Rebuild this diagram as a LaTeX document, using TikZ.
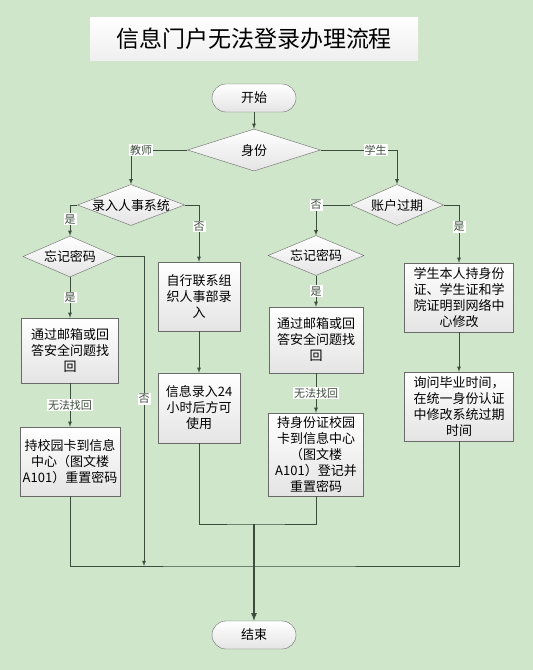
\documentclass[tikz,border=0pt]{standalone}
\usepackage{fontspec}
\setmainfont{Noto Sans CJK SC}
\usetikzlibrary{shapes}
\usetikzlibrary{positioning}
\usetikzlibrary{arrows.meta}
\definecolor{bgc}{HTML}{CFE6CA}
\definecolor{lnc}{HTML}{3D4D3D}
\definecolor{bdc}{HTML}{6A6A6A}
\definecolor{boxg}{HTML}{E4E4E4}
\tikzset{
    title/.style = {rectangle, draw=none, top color=white, bottom color=boxg!60, minimum width=328pt, minimum height=43pt, inner sep=0pt, font=\fontsize{23}{26}\selectfont},
    term/.style = {rectangle, rounded corners=14pt, draw=bdc, thin, top color=white, bottom color=boxg, minimum width=84pt, minimum height=28pt, inner sep=0pt, font=\fontsize{13}{16}\selectfont},
    choice/.style = {diamond, aspect=2.6, draw=bdc, thin, top color=white, bottom color=boxg, inner sep=0pt, text height=10pt, text depth=0pt, font=\fontsize{13}{16}\selectfont},
    stepbox/.style = {rectangle, draw=bdc, thin, top color=white, bottom color=boxg, inner sep=0pt, align=center, font=\fontsize{13}{16}\selectfont},
    lbl/.style = {fill=white, inner sep=1pt, font=\fontsize{11}{12}\selectfont},
    edgen/.style = {-latex, lnc, line width=0.8pt},
    edgel/.style = {lnc, line width=0.8pt},
    edgem/.style = {-latex, lnc, line width=1.6pt}
}
\begin{document}
\begin{tikzpicture}[x=1pt,y=-1pt]
%
\path[fill=bgc] (0,0) rectangle (533,670);
\node[title] at (254,38.5) (ttl) {信息门户无法登录办理流程};
%
\node[term] at (254,98) (start) {开始};
\node[choice, minimum width=133pt, minimum height=42pt] at (254,150) (sf) {身份};
\node[choice, minimum width=107pt, minimum height=41pt] at (131,205) (lr) {录入人事系统};
\node[choice, minimum width=93pt, minimum height=41pt] at (397,205) (zh) {账户过期};
\node[choice, minimum width=94pt, minimum height=41pt] at (70,256.5) (wj1) {忘记密码};
\node[choice, minimum width=96pt, minimum height=40pt] at (316,255.5) (wj2) {忘记密码};
%
\node[stepbox, minimum width=97pt, minimum height=65pt] at (70,350.5) (tg1) {通过邮箱或回\\答安全问题找\\回};
\node[stepbox, minimum width=100pt, minimum height=69pt] at (70,461.5) (cx1) {持校园卡到信息\\中心（图文楼\\A101）重置密码};
\node[stepbox, minimum width=82pt, minimum height=69pt] at (199,296.5) (zx) {自行联系组\\织人事部录\\入};
\node[stepbox, minimum width=82pt, minimum height=70pt] at (199,408) (xx) {信息录入24\\小时后方可\\使用};
\node[stepbox, minimum width=94pt, minimum height=66pt] at (316,340) (tg2) {通过邮箱或回\\答安全问题找\\回};
\node[stepbox, minimum width=95pt, minimum height=83pt] at (316,454.5) (cs2) {持身份证校园\\卡到信息中心\\（图文楼\\A101）登记并\\重置密码};
\node[stepbox, minimum width=109pt, minimum height=69pt] at (459,297.5) (xs) {学生本人持身份\\证、学生证和学\\院证明到网络中\\心修改};
\node[stepbox, minimum width=109pt, minimum height=69pt] at (459,406.5) (xw) {询问毕业时间，\\在统一身份认证\\中修改系统过期\\时间};
%
\node[term] at (254,635) (end) {结束};
%
\coordinate (m1) at (144,566);
\coordinate (m2) at (254,524);
\coordinate (m3) at (254,566);
%
\draw[edgen] (start) -- (sf);
\draw[edgen] (sf.west) -| node[lbl, pos=0.41] {教师} (lr.north);
\draw[edgen] (sf.east) -| node[lbl, pos=0.36] {学生} (zh.north);
\draw[edgen] (lr.west) -| node[lbl, pos=0.73] {是} (wj1.north);
\draw[edgen] (lr.east) -| node[lbl, pos=0.69] {否} (zx.north);
\draw[edgen] (zh.west) -| node[lbl, pos=0.5] {否} (wj2.north);
\draw[edgen] (zh.east) -| node[lbl, pos=0.69] {是} (xs.north);
\draw[edgen] (wj1) -- node[lbl] {是} (tg1);
\draw[edgen] (tg1) -- node[lbl] {无法找回} (cx1);
\draw[edgen] (wj1.east) -| node[lbl, pos=0.73] {否} (m1);
\draw[edgen] (zx) -- (xx);
\draw[edgen] (wj2) -- node[lbl] {是} (tg2);
\draw[edgen] (tg2) -- node[lbl] {无法找回} (cs2);
\draw[edgen] (xs) -- (xw);
%
\draw[edgel] (xx.south) |- (m2) -| (cs2.south);
\draw[edgel] (cx1.south) |- (m3) -| (xw.south);
\draw[edgem] (m2) -- (end);

\end{tikzpicture}
\end{document}
